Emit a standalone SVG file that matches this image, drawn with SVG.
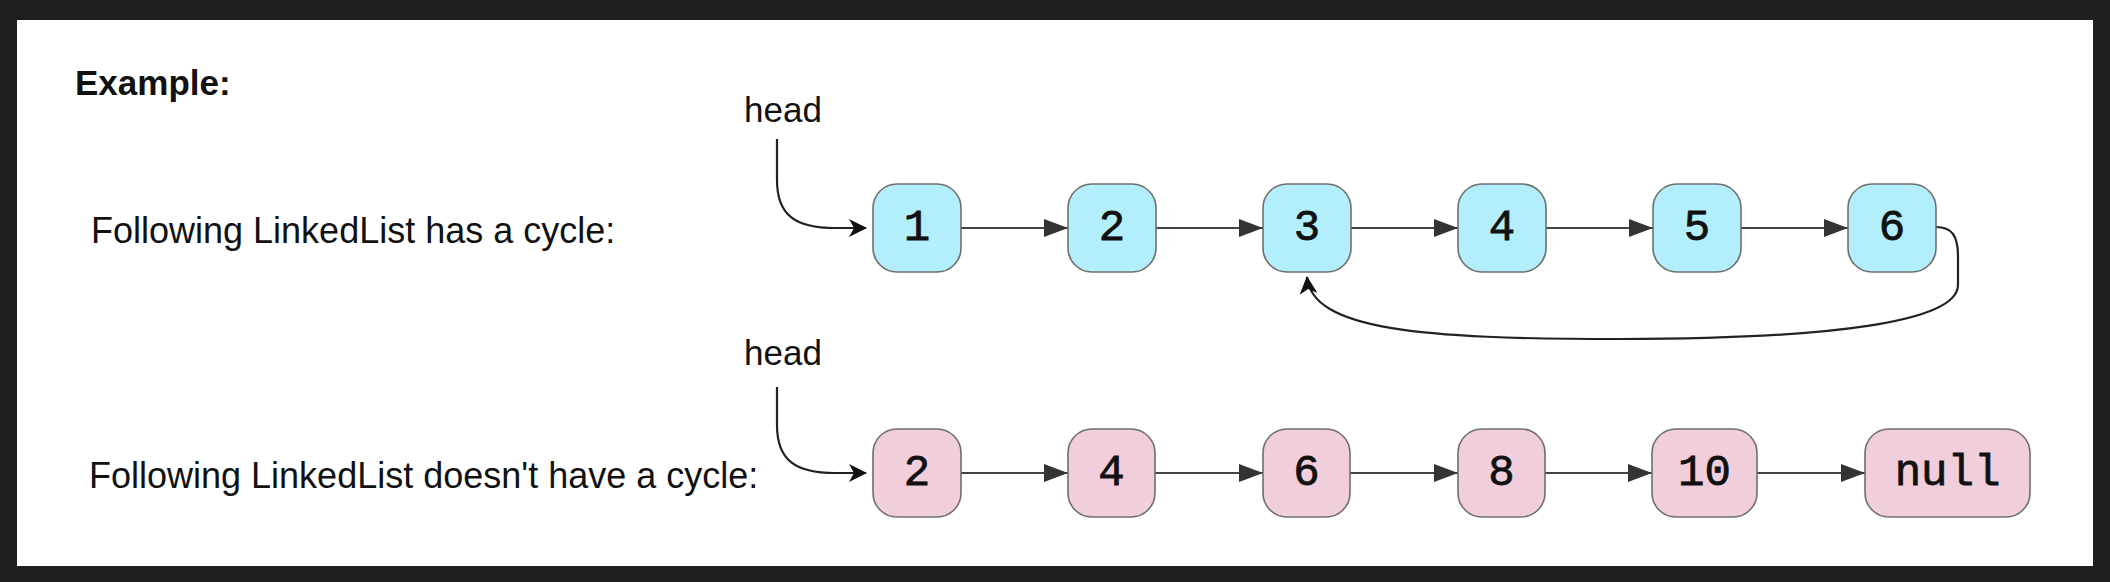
<svg xmlns="http://www.w3.org/2000/svg" width="2110" height="582" viewBox="0 0 2110 582">
<defs>
<style>
.lbl{font-family:"Liberation Sans",Arial,sans-serif;font-size:36px;fill:#111}
.bold{font-weight:bold;font-size:35px}
.nodeA{fill:#b3eefc;stroke:#6f6f6f;stroke-width:1.6}
.nodeB{fill:#f0cedc;stroke:#6f6f6f;stroke-width:1.6}
.val{font-family:"Liberation Mono","DejaVu Sans Mono",monospace;font-size:44px;fill:#111;stroke:#111;stroke-width:0.8;text-anchor:middle}
.edge{fill:none;stroke:#444;stroke-width:2}
.curve{fill:none;stroke:#222;stroke-width:2.2}
</style>
<marker id="tri" markerUnits="userSpaceOnUse" markerWidth="24" markerHeight="18" refX="24" refY="9" orient="auto">
<path d="M0,0 L24,9 L0,18 z" fill="#333"/>
</marker>
<marker id="classic" markerUnits="userSpaceOnUse" markerWidth="18" markerHeight="18" refX="17" refY="9" orient="auto">
<path d="M0,0 L18,9 L0,18 L5,9 z" fill="#111"/>
</marker>
</defs>
<rect x="0" y="0" width="2110" height="582" fill="#1f1f1f"/>
<rect x="17" y="20" width="2076" height="546" fill="#ffffff"/>

<g id="labels">
<text class="lbl bold" x="75" y="95">Example:</text>
<text class="lbl" x="91" y="243">Following LinkedList has a cycle:</text>
<text class="lbl" x="89" y="488">Following LinkedList doesn't have a cycle:</text>
<text class="lbl" x="744" y="122" style="font-size:35px">head</text>
<text class="lbl" x="744" y="365" style="font-size:35px">head</text>
</g>

<g id="connectors">
<path class="curve" d="M777,139 L777,180 C777,215 795,228 835,228 L866,228" marker-end="url(#classic)"/>
<path class="curve" d="M777,387 L777,425 C777,460 795,473 835,473 L866,473" marker-end="url(#classic)"/>
<line class="edge" x1="961" y1="228" x2="1068" y2="228" marker-end="url(#tri)"/>
<line class="edge" x1="1156" y1="228" x2="1263" y2="228" marker-end="url(#tri)"/>
<line class="edge" x1="1351" y1="228" x2="1458" y2="228" marker-end="url(#tri)"/>
<line class="edge" x1="1546" y1="228" x2="1653" y2="228" marker-end="url(#tri)"/>
<line class="edge" x1="1741" y1="228" x2="1848" y2="228" marker-end="url(#tri)"/>
<path class="curve" d="M1936,227 C1952,227 1958,236 1958,256 L1958,285 C1958,322 1830,339 1620,339 C1420,339 1312,330 1307,277" marker-end="url(#classic)"/>
<line class="edge" x1="961" y1="473" x2="1068" y2="473" marker-end="url(#tri)"/>
<line class="edge" x1="1155" y1="473" x2="1263" y2="473" marker-end="url(#tri)"/>
<line class="edge" x1="1350" y1="473" x2="1458" y2="473" marker-end="url(#tri)"/>
<line class="edge" x1="1545" y1="473" x2="1652" y2="473" marker-end="url(#tri)"/>
<line class="edge" x1="1757" y1="473" x2="1865" y2="473" marker-end="url(#tri)"/>
</g>

<g id="n1"><rect class="nodeA" x="873" y="184" width="88" height="88" rx="24"/><text class="val" x="917" y="240">1</text></g>
<g id="n2"><rect class="nodeA" x="1068" y="184" width="88" height="88" rx="24"/><text class="val" x="1112" y="240">2</text></g>
<g id="n3"><rect class="nodeA" x="1263" y="184" width="88" height="88" rx="24"/><text class="val" x="1307" y="240">3</text></g>
<g id="n4"><rect class="nodeA" x="1458" y="184" width="88" height="88" rx="24"/><text class="val" x="1502" y="240">4</text></g>
<g id="n5"><rect class="nodeA" x="1653" y="184" width="88" height="88" rx="24"/><text class="val" x="1697" y="240">5</text></g>
<g id="n6"><rect class="nodeA" x="1848" y="184" width="88" height="88" rx="24"/><text class="val" x="1892" y="240">6</text></g>

<g id="m2"><rect class="nodeB" x="873" y="429" width="88" height="88" rx="24"/><text class="val" x="917" y="485">2</text></g>
<g id="m4"><rect class="nodeB" x="1068" y="429" width="87" height="88" rx="24"/><text class="val" x="1111.5" y="485">4</text></g>
<g id="m6"><rect class="nodeB" x="1263" y="429" width="87" height="88" rx="24"/><text class="val" x="1306.5" y="485">6</text></g>
<g id="m8"><rect class="nodeB" x="1458" y="429" width="87" height="88" rx="24"/><text class="val" x="1501.5" y="485">8</text></g>
<g id="m10"><rect class="nodeB" x="1652" y="429" width="105" height="88" rx="24"/><text class="val" x="1704.5" y="485">10</text></g>
<g id="mnull"><rect class="nodeB" x="1865" y="429" width="165" height="88" rx="24"/><text class="val" x="1947.5" y="485">null</text></g>
</svg>
